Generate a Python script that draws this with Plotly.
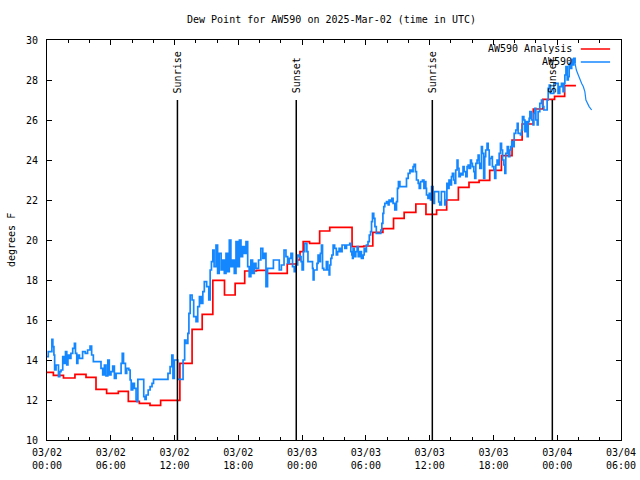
import plotly.graph_objects as go
from datetime import datetime, timedelta

# ---------------- data ----------------
start = datetime(2025, 3, 2, 0, 0)

# Analysis (hourly step values), time in hours since 03/02 00:00 UTC
red_hours = [0.0, 0.6, 1.55, 2.63, 3.67, 4.61, 5.61, 6.71, 7.65, 8.69, 9.69, 10.69,
             12.5, 13.65, 14.6, 15.6, 16.7, 17.7, 18.6, 19.7, 20.7, 22.6, 23.5, 23.8,
             24.1, 24.7, 25.65, 26.6, 28.7, 29.8, 30.65, 31.6, 32.6, 33.6, 34.7, 35.65,
             36.65, 37.6, 38.7, 39.7, 40.65, 41.65, 42.75, 43.75, 44.7, 45.75, 46.65,
             47.75, 48.7, 49.76]
red_vals = [13.38, 13.23, 13.10, 13.28, 13.13, 12.53, 12.33, 12.43, 11.93, 11.83, 11.73, 11.98,
            13.83, 15.53, 16.28, 17.98, 17.25, 17.83, 18.45, 18.48, 18.33, 18.8, 19.0, 19.42,
            19.92, 19.83, 20.45, 20.63, 19.67, 19.7, 20.38, 20.57, 21.08, 21.38, 21.8, 21.28,
            21.5, 22.0, 22.63, 22.88, 22.98, 23.48, 24.22, 25.0, 25.8, 26.55, 27.03,
            27.18, 27.72, 27.72]

# Station observations
blue_hours = [
    0.00, 0.12, 0.46, 0.55, 0.65, 0.72, 0.85, 1.08, 1.20, 1.32, 1.48, 1.62, 1.74, 1.86, 1.97,
    2.10, 2.25, 2.42, 2.58, 2.68, 2.80, 2.90, 3.05, 3.35, 3.60, 3.82, 4.05, 4.20, 4.36, 5.08,
    5.24, 5.40, 5.55, 5.72, 5.86, 6.02, 6.18, 6.34, 6.50, 6.97, 7.08, 7.20, 7.38, 7.50, 7.70,
    7.82, 7.92, 8.06, 8.22, 8.38, 8.48, 8.55, 9.10, 9.22, 9.33, 9.52, 9.70, 9.88, 10.02, 11.38,
    11.58, 11.74, 11.85, 11.98, 12.30, 12.80, 12.95, 13.08, 13.25, 13.35, 13.47, 13.65, 13.80,
    14.02, 14.18, 14.34, 14.50, 14.66, 14.80, 15.02, 15.22, 15.35, 15.47, 15.60,
    15.72, 15.90, 16.05, 16.20, 16.38, 16.52, 16.68, 16.84, 17.00, 17.15, 17.30, 17.46, 17.62,
    17.78, 17.94, 18.10, 18.25, 18.40, 18.56, 18.72, 18.88, 19.02, 19.18, 19.34, 19.50, 19.66,
    19.90, 20.12, 20.30, 20.45, 20.60, 20.75, 21.30, 21.85, 22.05, 22.30, 22.48, 22.64, 22.80,
    22.95, 23.10, 23.26, 23.42, 23.58, 23.75, 23.90, 24.00,
    24.12, 24.25, 24.45, 24.55, 24.98, 25.04, 25.12, 25.40, 25.50, 25.60, 25.72, 25.82, 25.92,
    26.04, 26.28, 26.42, 26.54, 26.60, 26.70, 26.80, 26.92, 27.06, 27.22, 27.34, 27.48, 27.62,
    27.76, 28.02, 28.18, 28.48, 28.58, 28.68, 28.74, 28.80, 28.90, 29.05, 29.18, 29.28, 29.44,
    29.58, 29.74, 29.84, 29.96, 30.05, 30.20, 30.32, 30.44, 30.53, 30.62, 30.74, 30.85, 30.98,
    31.40, 31.50, 31.60, 31.68, 31.78, 31.94, 32.10, 32.18, 32.32, 32.44, 32.56, 32.72, 32.88,
    32.97, 33.06, 33.20, 33.82, 33.98, 34.14, 34.30, 34.44, 34.54, 34.66, 34.76, 34.92, 35.02,
    35.14, 35.32, 35.46, 35.55, 35.64, 35.70, 35.84, 35.96, 36.08, 36.18,
    36.32, 36.45, 36.85, 36.95, 37.10, 37.42, 37.50, 37.62, 37.72, 37.82, 37.95, 38.05, 38.14,
    38.26, 38.36, 38.45, 38.58, 38.66, 38.76, 38.88, 39.00, 39.14, 39.24, 39.40, 39.52, 39.62,
    39.70, 39.84, 39.93, 40.02, 40.15, 40.24, 40.34, 40.46, 40.56, 40.65, 40.72, 40.87, 40.96,
    41.08, 41.18, 41.27, 41.40, 41.50, 41.60, 41.66, 41.82, 41.90, 42.04, 42.12, 42.22, 42.34,
    42.44, 42.54, 42.66, 42.76, 42.86, 42.98, 43.07, 43.16, 43.30, 43.42, 43.54, 43.64, 43.72,
    43.86, 43.95, 44.10, 44.24, 44.32, 44.54, 44.64, 44.73, 44.86, 44.96, 45.05, 45.18, 45.27,
    45.36, 45.43, 45.58, 45.73, 45.80, 45.90, 45.99, 46.12, 46.20, 46.36, 46.52, 46.62, 46.74,
    47.05, 47.15, 47.25, 47.36, 47.68, 48.08, 48.24, 48.40, 48.55, 48.65, 48.72, 48.82, 48.94,
    49.04, 49.12, 49.26, 49.36, 49.45, 49.56, 49.68]
blue_vals = [
    14.17, 14.42, 15.03, 14.67, 14.25, 13.50, 13.75, 13.17, 13.42, 13.50, 14.17, 13.83, 14.42, 13.75, 14.25,
    14.08, 14.33, 14.58, 14.83, 14.33, 13.83, 14.25, 14.08, 14.42, 14.33, 14.50, 14.70, 14.25, 13.92, 13.58,
    13.25, 13.75, 13.20, 14.00, 13.25, 13.42, 13.70, 13.08, 13.33, 13.83, 14.33, 13.83, 13.33, 13.58, 13.50,
    13.00, 12.50, 12.83, 12.58, 12.00, 11.92, 13.03, 12.17, 12.03, 12.25, 12.50, 12.67, 12.83, 13.03, 13.33,
    13.67, 14.25, 13.08, 14.00, 13.03, 14.00, 15.00, 14.83, 15.33, 16.33, 17.25, 17.00, 16.17,
    15.92, 16.67, 17.17, 16.83, 17.42, 17.92, 17.67, 17.00, 18.50, 18.92, 19.50,
    18.67, 19.75, 18.33, 19.33, 18.50, 19.00, 18.33, 19.33, 18.42, 20.00, 18.67, 19.00, 18.33,
    19.92, 18.67, 20.00, 19.17, 19.67, 19.33, 19.92, 18.67, 18.17, 19.00, 18.33, 18.83, 18.58,
    19.00, 19.58, 19.08, 19.33, 17.67, 18.58, 19.00, 18.50, 18.75, 19.50, 19.17, 18.83, 19.08,
    19.33, 18.67, 18.42, 18.75, 19.25, 19.17, 18.92, 18.50,
    19.42, 19.83, 19.42, 18.92, 18.58, 18.00, 18.50, 18.83, 19.25, 18.92, 19.33, 19.75, 18.58,
    18.50, 18.92, 18.50, 18.25, 18.75, 19.08, 19.25, 19.75, 19.58, 19.25, 19.42, 19.58, 19.42,
    19.75, 19.58, 19.75, 19.83, 19.42, 19.25, 19.08, 19.58, 19.17, 19.42, 19.67, 19.17, 19.42,
    19.08, 19.25, 19.58, 19.42, 19.75, 19.92, 20.25, 20.42, 20.92, 21.33, 21.08, 20.67, 20.33,
    20.50, 20.83, 21.33, 21.67, 21.83, 21.92, 21.75, 22.00, 21.92, 22.08, 21.83, 21.50, 21.92,
    22.58, 22.92, 22.67, 23.08, 23.33, 23.50, 23.42, 23.67, 23.78, 23.42, 23.00, 22.83, 22.58,
    22.92, 23.00, 22.58, 22.92, 22.58, 22.25, 22.08, 22.33, 22.00, 22.67,
    21.83, 22.42, 21.90, 21.75, 22.42, 21.75, 22.00, 22.83, 22.58, 23.00, 22.75, 23.17, 23.33,
    23.00, 22.83, 23.50, 24.00, 23.58, 23.17, 23.33, 23.25, 23.67, 23.42, 23.17, 23.67, 23.75,
    23.58, 24.00, 23.83, 23.67, 23.42, 23.08, 23.83, 24.00, 24.25, 23.83, 23.58, 24.67, 24.33,
    23.08, 24.17, 24.50, 24.83, 24.50, 23.75, 24.08, 24.17, 23.67, 23.50, 23.08, 23.75, 24.00,
    23.75, 24.33, 24.83, 24.50, 24.00, 23.75, 23.33, 24.33, 24.67, 24.17, 24.50, 24.67, 24.92,
    24.67, 25.33, 25.50, 25.83, 25.33, 25.25, 25.50, 26.17, 26.00, 25.42, 25.92, 25.17, 25.92,
    26.08, 26.42, 26.00, 25.75, 26.33, 26.58, 26.00, 25.75, 26.42, 26.83, 27.00, 26.67, 26.50,
    27.00, 27.58, 27.75, 27.33, 27.83, 27.33, 27.67, 27.83, 27.42, 27.83, 28.25, 28.67, 28.00,
    28.17, 28.83, 28.58, 29.03, 28.75, 29.08, 28.83]

# final, sparser observations (drawn as straight segments)
tail_hours = [49.68, 49.80, 49.98, 50.14, 50.30, 50.45, 50.60, 50.70, 50.83, 51.00, 51.24]
tail_vals = [28.83, 28.50, 28.25, 28.00, 27.83, 27.67, 27.42, 27.00, 26.83, 26.67, 26.50]

sun_labels = ["Sunrise", "Sunset", "Sunrise", "Sunset"]
sun_hours = [12.27, 23.45, 36.25, 47.54]
sun_top = 27.0

tick_hours = [0, 6, 12, 18, 24, 30, 36, 42, 48, 54]
tick_labels = ["03/02<br>00:00", "03/02<br>06:00", "03/02<br>12:00", "03/02<br>18:00",
               "03/03<br>00:00", "03/03<br>06:00", "03/03<br>12:00", "03/03<br>18:00",
               "03/04<br>00:00", "03/04<br>06:00"]

series_names = ["AW590 Analysis", "AW590"]
title_text = "Dew Point for AW590 on 2025-Mar-02 (time in UTC)"
y_title = "degrees F"


def t(h):
    return start + timedelta(hours=h)


# ---------------- figure ----------------
FONT = "DejaVu Sans Mono"
RED = "#ff0000"
BLUE = "#1487ff"

fig = go.Figure()
fig.add_trace(go.Scatter(x=[t(h) for h in red_hours], y=red_vals, mode="lines",
                         line=dict(color=RED, width=1.7, shape="hv"),
                         name=series_names[0], showlegend=False))
fig.add_trace(go.Scatter(x=[t(h) for h in blue_hours], y=blue_vals, mode="lines",
                         line=dict(color=BLUE, width=1.7, shape="hv"),
                         name=series_names[1], showlegend=False))
fig.add_trace(go.Scatter(x=[t(h) for h in tail_hours], y=tail_vals, mode="lines",
                         line=dict(color=BLUE, width=1.2),
                         name=series_names[1], showlegend=False))

shapes = []
annotations = []
for lab, h in zip(sun_labels, sun_hours):
    shapes.append(dict(type="line", xref="x", yref="y", x0=t(h), x1=t(h), y0=10, y1=sun_top,
                       line=dict(color="black", width=1.5)))
    annotations.append(dict(x=t(h), y=sun_top + 0.25, xref="x", yref="y", text=lab,
                            textangle=-90, showarrow=False, xanchor="center", yanchor="bottom",
                            font=dict(family=FONT, size=10, color="black")))

# gnuplot-style legend (text then sample line)
for i, (nm, col) in enumerate(zip(series_names, [RED, BLUE])):
    yy = 0.9775 - i * 0.0325
    annotations.append(dict(x=0.918, y=yy, xref="paper", yref="paper", text=nm,
                            showarrow=False, xanchor="right", yanchor="middle",
                            font=dict(family=FONT, size=10, color="black")))
    shapes.append(dict(type="line", xref="paper", yref="paper", x0=0.930, x1=0.981,
                       y0=yy, y1=yy, line=dict(color=col, width=1.5)))

annotations.append(dict(x=0.4956, y=(440 - 20) / 400, xref="paper", yref="paper",
                        text=title_text, showarrow=False, xanchor="center", yanchor="middle",
                        font=dict(family=FONT, size=10, color="black")))
annotations.append(dict(x=-0.0627, y=0.5, xref="paper", yref="paper", text=y_title,
                        textangle=-90, showarrow=False, xanchor="center", yanchor="middle",
                        font=dict(family=FONT, size=10, color="black")))

fig.update_layout(
    width=640, height=480,
    margin=dict(l=47, r=19, t=40, b=40, autoexpand=False),
    paper_bgcolor="white", plot_bgcolor="white",
    font=dict(family=FONT, size=10, color="black"),
    shapes=shapes, annotations=annotations,
    showlegend=False,
)
fig.update_xaxes(
    type="date", range=[t(0), t(54)], automargin=False,
    tickmode="array", tickvals=[t(h) for h in tick_hours], ticktext=tick_labels,
    ticks="inside", ticklen=5, tickcolor="black", tickwidth=1, ticklabelstandoff=3,
    showline=True, linecolor="black", linewidth=1, mirror="allticks",
    showgrid=False, zeroline=False,
    tickfont=dict(family=FONT, size=10, color="black"),
    minor=dict(ticks="inside", ticklen=3, tickcolor="black", dtick=2 * 3600 * 1000,
               tick0=t(0), showgrid=False),
)
fig.update_yaxes(
    range=[10, 30], dtick=2, tick0=10, automargin=False,
    ticks="inside", ticklen=5, tickcolor="black", tickwidth=1, ticklabelstandoff=6,
    showline=True, linecolor="black", linewidth=1, mirror="allticks",
    showgrid=False, zeroline=False,
    tickfont=dict(family=FONT, size=10, color="black"),
)

fig.write_html("out.html", config={"displayModeBar": False, "staticPlot": True},
               post_script="document.body.style.margin='0';")
